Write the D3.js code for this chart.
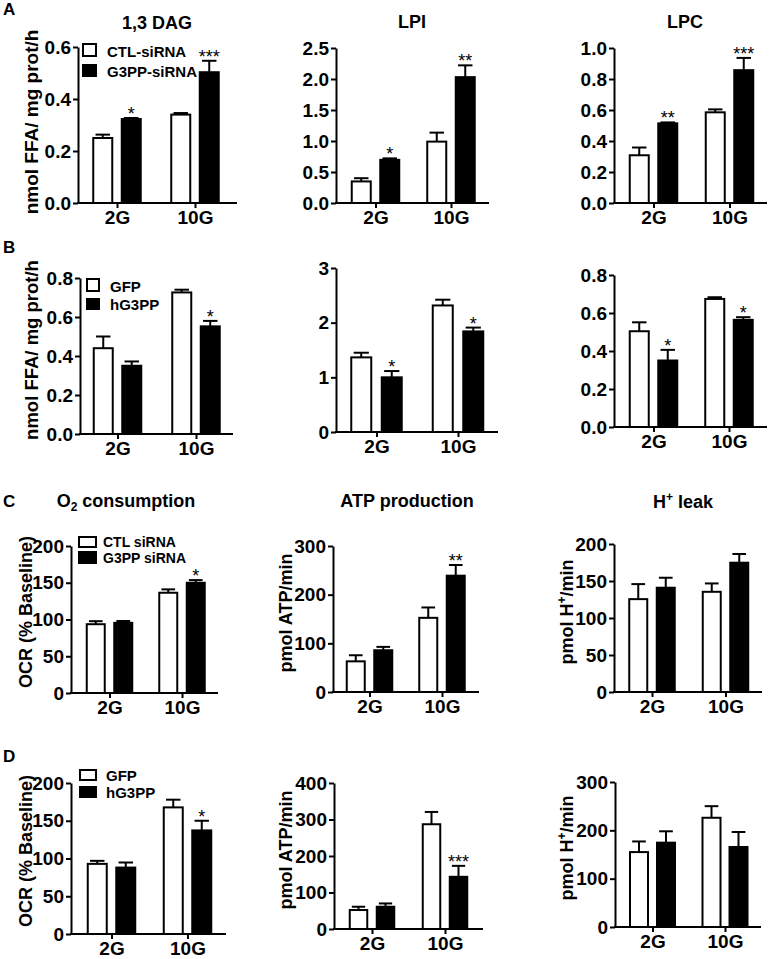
<!DOCTYPE html>
<html><head><meta charset="utf-8">
<script src="https://cdn.jsdelivr.net/npm/d3@7"></script>
<style>
body{margin:0;background:#fff}
svg text{font-family:"Liberation Sans",Arial,Helvetica,sans-serif;font-weight:bold;fill:#000}
</style></head><body>
<svg id="fig" width="769" height="959"></svg>
<script>
// ---------------- DATA ----------------
const categories = ["2G", "10G"];
const siRNALegend = ["CTL-siRNA", "G3PP-siRNA"];
const siRNALegendC = ["CTL siRNA", "G3PP siRNA"];
const overLegend = ["GFP", "hG3PP"];

// mean[series][category], sem[series][category]; stars over treated bars
const dagMean = [[0.25, 0.34], [0.323, 0.503]];
const dagSem = [[0.013, 0.006], [0.004, 0.044]];
const dagStars = ["*", "***"];
const dagTicks = [0, 0.2, 0.4, 0.6];

const lpiMean = [[0.348, 0.99], [0.696, 2.03]];
const lpiSem = [[0.052, 0.145], [0.024, 0.19]];
const lpiStars = ["*", "**"];
const lpiTicks = [0, 0.5, 1.0, 1.5, 2.0, 2.5];

const lpcMean = [[0.308, 0.585], [0.514, 0.857]];
const lpcSem = [[0.05, 0.019], [0.006, 0.079]];
const lpcStars = ["**", "***"];
const lpcTicks = [0, 0.2, 0.4, 0.6, 0.8, 1.0];

const dagOeMean = [[0.44, 0.726], [0.35, 0.552]];
const dagOeSem = [[0.06, 0.014], [0.022, 0.028]];
const dagOeStars = ["", "*"];
const dagOeTicks = [0, 0.2, 0.4, 0.6, 0.8];

const lpiOeMean = [[1.365, 2.315], [1.0, 1.84]];
const lpiOeSem = [[0.085, 0.105], [0.115, 0.07]];
const lpiOeStars = ["*", "*"];
const lpiOeTicks = [0, 1, 2, 3];

const lpcOeMean = [[0.504, 0.674], [0.35, 0.564]];
const lpcOeSem = [[0.047, 0.009], [0.056, 0.014]];
const lpcOeStars = ["*", "*"];
const lpcOeTicks = [0, 0.2, 0.4, 0.6, 0.8];

const o2KdMean = [[93.6, 136.4], [95.5, 150]];
const o2KdSem = [[4.1, 4.6], [2.5, 3.6]];
const o2KdStars = ["", "*"];
const o2KdTicks = [0, 50, 100, 150, 200];

const atpKdMean = [[63, 152.4], [85.8, 239]];
const atpKdSem = [[12.5, 21.3], [6.9, 22]];
const atpKdStars = ["", "**"];
const atpKdTicks = [0, 100, 200, 300];

const hKdMean = [[125.5, 135.4], [140.9, 174.7]];
const hKdSem = [[20.3, 11.3], [13.5, 11.8]];
const hKdStars = ["", ""];
const hKdTicks = [0, 50, 100, 150, 200];

const o2OeMean = [[92.9, 167.7], [88, 137.2]];
const o2OeSem = [[4, 10.2], [6.7, 12.8]];
const o2OeStars = ["", "*"];
const o2OeTicks = [0, 50, 100, 150, 200];

const atpOeMean = [[52, 287], [61, 143]];
const atpOeSem = [[9, 33.7], [9, 30]];
const atpOeStars = ["", "***"];
const atpOeTicks = [0, 100, 200, 300, 400];

const hOeMean = [[155, 226], [174.5, 165.5]];
const hOeSem = [[22, 24], [23.5, 31]];
const hOeStars = ["", ""];
const hOeTicks = [0, 100, 200, 300];

// ---------------- LAYOUT ----------------
const panels = [
  {mean: dagMean, sem: dagSem, stars: dagStars, ticks: dagTicks, fmt: ".1f", left: 78, right: 237, top: 47, bottom: 203, c: [117, 195], d: 28.5, w: 19},
  {mean: lpiMean, sem: lpiSem, stars: lpiStars, ticks: lpiTicks, fmt: ".1f", left: 336, right: 489, top: 48, bottom: 203, c: [375.5, 451], d: 28.5, w: 19},
  {mean: lpcMean, sem: lpcSem, stars: lpcStars, ticks: lpcTicks, fmt: ".1f", left: 614, right: 767, top: 48, bottom: 203, c: [653.5, 729.5], d: 28.5, w: 19},
  {mean: dagOeMean, sem: dagOeSem, stars: dagOeStars, ticks: dagOeTicks, fmt: ".1f", left: 80, right: 233, top: 278, bottom: 434, c: [117.5, 196], d: 28.5, w: 19},
  {mean: lpiOeMean, sem: lpiOeSem, stars: lpiOeStars, ticks: lpiOeTicks, fmt: "d", left: 336, right: 498, top: 268, bottom: 432, c: [376.5, 458], d: 30.5, w: 20},
  {mean: lpcOeMean, sem: lpcOeSem, stars: lpcOeStars, ticks: lpcOeTicks, fmt: ".1f", left: 614, right: 767, top: 275, bottom: 427, c: [653.5, 729], d: 28.5, w: 19},
  {mean: o2KdMean, sem: o2KdSem, stars: o2KdStars, ticks: o2KdTicks, fmt: "d", left: 71, right: 218, top: 546, bottom: 693, c: [109.5, 182], d: 27.5, w: 18},
  {mean: atpKdMean, sem: atpKdSem, stars: atpKdStars, ticks: atpKdTicks, fmt: "d", left: 333, right: 479, top: 546, bottom: 692, c: [369.5, 442], d: 27.5, w: 18},
  {mean: hKdMean, sem: hKdSem, stars: hKdStars, ticks: hKdTicks, fmt: "d", left: 614, right: 762, top: 544, bottom: 692, c: [652, 725.5], d: 27.5, w: 18},
  {mean: o2OeMean, sem: o2OeSem, stars: o2OeStars, ticks: o2OeTicks, fmt: "d", left: 71, right: 226, top: 783, bottom: 934, c: [111.5, 187.5], d: 28.5, w: 19},
  {mean: atpOeMean, sem: atpOeSem, stars: atpOeStars, ticks: atpOeTicks, fmt: "d", left: 334, right: 483, top: 783, bottom: 929, c: [372, 445], d: 27, w: 17.5},
  {mean: hOeMean, sem: hOeSem, stars: hOeStars, ticks: hOeTicks, fmt: "d", left: 615, right: 761, top: 782, bottom: 927, c: [652.5, 725], d: 27, w: 18}
];

const svg = d3.select("#fig");

function drawPanel(p) {
  const g = svg.append("g");
  const y = d3.scaleLinear().domain([0, d3.max(p.ticks)]).range([p.bottom, p.top]);
  const x = d3.scalePoint().domain(categories).range(p.c);
  const inner = d3.scaleBand().domain([0, 1])
    .range([-(p.d + p.w) / 2, (p.d + p.w) / 2]).paddingInner((p.d - p.w) / p.d);
  const bw = inner.bandwidth();

  // error bars (upper only)
  p.mean.forEach((vals, s) => vals.forEach((v, i) => {
    const bx = x(categories[i]) + inner(s);
    const mid = bx + bw / 2;
    const et = y(v + p.sem[s][i]);
    g.append("line").attr("x1", mid).attr("x2", mid).attr("y1", y(v)).attr("y2", et)
      .attr("stroke", "#000").attr("stroke-width", 2);
    g.append("line").attr("x1", mid - bw * 0.38).attr("x2", mid + bw * 0.38).attr("y1", et).attr("y2", et)
      .attr("stroke", "#000").attr("stroke-width", 2);
    if (s === 1 && p.stars[i]) {
      g.append("text").attr("x", mid).attr("y", et + 2).attr("text-anchor", "middle")
        .attr("font-size", 18).style("font-weight", "normal").text(p.stars[i]);
    }
  }));
  // bars
  p.mean.forEach((vals, s) => vals.forEach((v, i) => {
    const bx = x(categories[i]) + inner(s);
    g.append("rect").attr("x", bx).attr("y", y(v)).attr("width", bw).attr("height", y(0) - y(v))
      .attr("fill", s === 0 ? "#fff" : "#000").attr("stroke", "#000").attr("stroke-width", 2);
  }));

  // y axis
  const ya = g.append("g").attr("transform", `translate(${p.left},0)`)
    .call(d3.axisLeft(y).tickValues(p.ticks).tickFormat(d3.format(p.fmt)).tickSize(5).tickSizeOuter(0).tickPadding(2));
  ya.attr("font-size", 19);
  ya.selectAll("path,line").attr("stroke-width", 2);

  // x axis
  const xa = g.append("g").attr("transform", `translate(0,${p.bottom})`)
    .call(d3.axisBottom(x).tickSize(5).tickPadding(3));
  xa.select(".domain").remove();
  xa.append("line").attr("x1", p.left - 1).attr("x2", p.right).attr("y1", 0).attr("y2", 0)
    .attr("stroke", "#000").attr("stroke-width", 2);
  xa.attr("font-size", 19);
  xa.selectAll(".tick line").attr("stroke-width", 2);
}
panels.forEach(drawPanel);

// ---------------- TEXT ----------------
function txt(x, y, s, size, anchor) {
  return svg.append("text").attr("x", x).attr("y", y).attr("font-size", size)
    .attr("text-anchor", anchor || "start").text(s);
}
function vlabel(x, y, size) {
  return svg.append("text").attr("transform", `translate(${x},${y}) rotate(-90)`)
    .attr("font-size", size).attr("text-anchor", "middle");
}
// panel letters
txt(3, 15, "A", 17); txt(3, 253, "B", 17); txt(3, 507, "C", 17); txt(3, 762, "D", 17);
// titles
txt(157, 29, "1,3 DAG", 18, "middle");
txt(412, 28, "LPI", 18, "middle");
txt(685, 28, "LPC", 18, "middle");
const t1 = txt(126, 507, "O", 18, "middle");
t1.append("tspan").attr("font-size", 12).attr("dy", 4).text("2");
t1.append("tspan").attr("dy", -4).text(" consumption");
txt(407, 507, "ATP production", 18, "middle");
const t3 = txt(683, 508, "H", 18, "middle");
t3.append("tspan").attr("font-size", 12).attr("dy", -7).text("+");
t3.append("tspan").attr("dy", 7).text(" leak");

// y labels
vlabel(38, 122, 19).text("nmol FFA/ mg prot/h");
vlabel(38, 350, 18.5).text("nmol FFA/ mg prot/h");
vlabel(32, 612, 18).text("OCR (% Baseline)");
vlabel(292, 613, 18).text("pmol ATP/min");
const h1 = vlabel(573, 612, 18); h1.append("tspan").text("pmol H");
h1.append("tspan").attr("font-size", 12).attr("dy", -7).text("+");
h1.append("tspan").attr("dy", 7).text("/min");
vlabel(32, 851, 18).text("OCR (% Baseline)");
vlabel(292, 850, 18).text("pmol ATP/min");
const h2 = vlabel(573, 848, 18); h2.append("tspan").text("pmol H");
h2.append("tspan").attr("font-size", 12).attr("dy", -7).text("+");
h2.append("tspan").attr("dy", 7).text("/min");

// legends
function legend(x, ys, hs, w, tx, tys, labels, size) {
  labels.forEach((l, i) => {
    svg.append("rect").attr("x", x).attr("y", ys[i]).attr("width", w).attr("height", hs[i])
      .attr("fill", i === 0 ? "#fff" : "#000").attr("stroke", "#000").attr("stroke-width", 2);
    txt(tx, tys[i], l, size);
  });
}
legend(83, [44, 65], [12, 11], 13, 107, [57, 77], siRNALegend, 15);
legend(87, [279, 299], [12, 10], 12, 110, [292, 310], overLegend, 15);
legend(79, [537, 552], [10, 11], 17, 103, [547, 563], siRNALegendC, 14);
legend(80, [770, 787], [10, 10], 16, 106, [781, 798], overLegend, 15);
</script>
</body></html>
